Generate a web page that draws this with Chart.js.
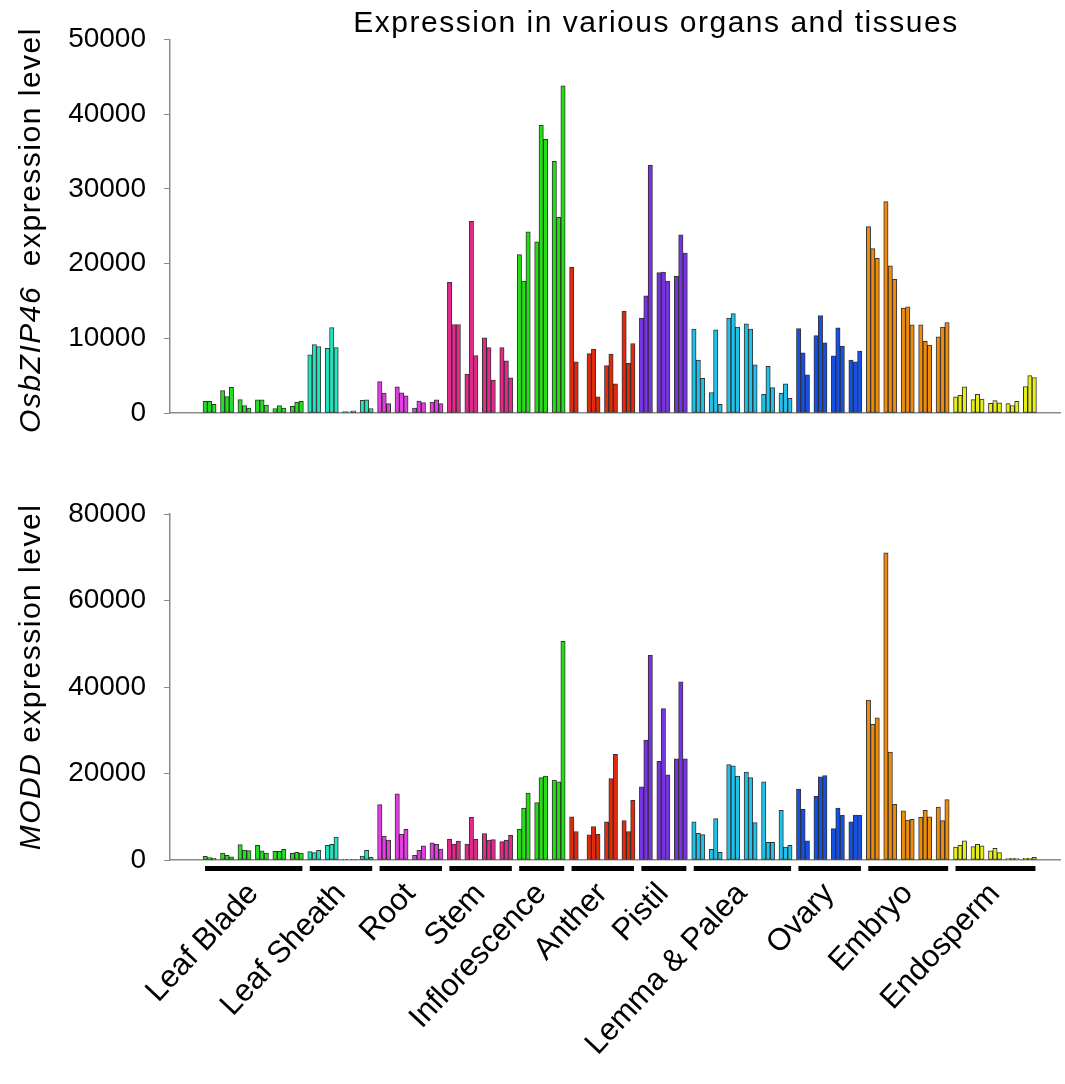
<!DOCTYPE html>
<html>
<head>
<meta charset="utf-8">
<script src="https://cdn.jsdelivr.net/npm/chart.js@4.4.1/dist/chart.umd.min.js"></script>
<style>
  body { margin: 0; background: #fff; font-family: "Liberation Sans", Arial, sans-serif; }
  #wrap { position: relative; width: 1065px; height: 1084px; overflow: hidden; }
  .box { position: absolute; left: 0; width: 1065px; }
  #topBox { top: 0; height: 440px; }
  #bottomBox { top: 440px; height: 644px; }
  #title { position: absolute; left: 656px; top: 22px; transform: translate(-50%, -50%);
           font-size: 30px; letter-spacing: 1.5px; white-space: nowrap; color: #000; }
  .ylab { position: absolute; transform: translate(-50%, -50%) rotate(-90deg);
          font-size: 30px; letter-spacing: 1.5px; white-space: nowrap; color: #000; }
</style>
</head>
<body>
<div id="wrap">
  <div class="box" id="topBox"><canvas id="topChart" width="1065" height="440"></canvas></div>
  <div class="box" id="bottomBox"><canvas id="bottomChart" width="1065" height="644"></canvas></div>
  <div id="title">Expression in various organs and tissues</div>
  <div class="ylab" style="left:30px; top:230px;"><i>OsbZIP46</i>&nbsp; expression level</div>
  <div class="ylab" style="left:30px; top:677px;"><i>MODD</i>&nbsp;expression level</div>
</div>
<script>
const tissues = ["Leaf Blade", "Leaf Sheath", "Root", "Stem", "Inflorescence", "Anther",
  "Pistil", "Lemma & Palea", "Ovary", "Embryo", "Endosperm"];
// number of sample triplicates per tissue
const tripletCounts = [6, 4, 4, 4, 3, 4, 3, 6, 4, 5, 5];
const tissueColors = ["#22e022", "#1ee6be", "#e63ce6", "#e6288c", "#22e011", "#e6280a",
  "#7832e6", "#1ec3eb", "#1450e6", "#f08c0a", "#e6f014"];

// OsbZIP46, three values per triplicate
const osbzip46 = [
  1550, 1550, 1150, 3000, 2200, 3450, 1800, 1000, 650, 1750, 1750, 1050, 600, 1000, 650, 900, 1450, 1550,
  7800, 9150, 8900, 8650, 11450, 8750, 200, 150, 300, 1700, 1750, 600,
  4200, 2650, 1250, 3500, 2700, 2300, 650, 1600, 1400, 1450, 1750, 1250,
  17500, 11850, 11850, 5200, 25650, 7700, 10050, 8750, 4400, 8750, 7000, 4700,
  21200, 17650, 24250, 22900, 38500, 36650, 33700, 26200, 43800,
  19500, 6850, null, 7950, 8550, 2150, 6350, 7900, 3900, 13650, 6650, 9300,
  12700, 15700, 33200, 18800, 18850, 17650, 18300, 23850, 21400,
  11250, 7100, 4650, 2750, 11150, 1150, 12700, 13300, 11500, 11950, 11250, 6450, 2500, 6250, 3400, 2650, 3900, 1950,
  11300, 8050, 5100, 10350, 13050, 9400, 7650, 11400, 8950, 7100, 6850, 8300,
  24950, 22000, 20700, 28300, 19700, 17900, 14050, 14200, 11800, 11800, 9600, 9100, 10200, 11500, 12100,
  2150, 2350, 3500, 1800, 2500, 1850, 1300, 1650, 1350, 1250, 1000, 1550, 3550, 5000, 4750
];

// MODD, same sample order
const modd = [
  850, 550, 400, 1600, 1100, 750, 3550, 2300, 2150, 3400, 2100, 1600, 2000, 2000, 2450, 1550, 1750, 1600,
  1950, 1700, 2250, 3400, 3600, 5300, 100, 50, 100, 900, 2250, 600,
  12800, 5550, 4600, 15300, 5950, 7100, 1100, 2250, 3300, 3950, 3600, 2550,
  4800, 3700, 4400, 3700, 9850, 4800, 6100, 4600, 4700, 4250, 4600, 5700,
  7100, 12000, 15500, 13250, 19050, 19400, 18500, 18050, 50550,
  10000, 6550, null, 5800, 7700, 5950, 8850, 18800, 24450, 9100, 6550, 13800,
  16900, 27750, 47350, 22800, 35000, 19700, 23400, 41200, 23400,
  8800, 6150, 5850, 2450, 9550, 1800, 22050, 21800, 19400, 20300, 19050, 8650, 18100, 4100, 4100, 11500, 3000, 3400,
  16400, 11700, 4450, 14700, 19250, 19500, 7250, 12000, 10350, 8800, 10400, 10400,
  37000, 31350, 32850, 71050, 24950, 12850, 11350, 9250, 9400, 9850, 11500, 10000, 12250, 9100, 13950,
  3000, 3400, 4450, 3100, 3600, 3250, 2100, 2700, 1700, 300, 400, 300, 400, 400, 600
];

const FONT = "'Liberation Sans', Arial, sans-serif";

// each triplicate takes 4 slots on the x axis: 3 bars and a gap
const tissueStart = [];
let acc = 0;
tripletCounts.forEach((n) => { tissueStart.push(acc); acc += n; });
const tissueCenters = tissueStart.map((s, i) => 4 * s + 2 * tripletCounts[i] - 1);

function buildBars(values) {
  const points = [];
  const colors = [];
  tissues.forEach((t, ti) => {
    for (let k = 0; k < tripletCounts[ti]; k++) {
      for (let j = 0; j < 3; j++) {
        const idx = (tissueStart[ti] + k) * 3 + j;
        if (values[idx] === null) continue;
        points.push({ x: 4 * (tissueStart[ti] + k) + j, y: values[idx] });
        colors.push(tissueColors[ti]);
      }
    }
  });
  return { points, colors };
}

const underlinePlugin = {
  id: "underlines",
  afterDraw(chart) {
    if (!chart.options.plugins.underlines.show) return;
    const x = chart.scales.x;
    const ctx = chart.ctx;
    const half = (x.getPixelForValue(1) - x.getPixelForValue(0)) / 2;
    const yTop = chart.chartArea.bottom + 6;
    ctx.save();
    ctx.fillStyle = "#000";
    tissues.forEach((t, i) => {
      const first = 4 * tissueStart[i];
      const last = 4 * (tissueStart[i] + tripletCounts[i] - 1) + 2;
      const x0 = x.getPixelForValue(first) - half + 2;
      const x1 = x.getPixelForValue(last) + half - 1;
      ctx.fillRect(x0, yTop, x1 - x0, 5);
    });
    ctx.restore();
  },
};

function makeChart(canvasId, values, yMax, step, padTop, xHeight, showLabels) {
  const bars = buildBars(values);
  return new Chart(document.getElementById(canvasId), {
    type: "bar",
    data: {
      datasets: [
        {
          data: bars.points,
          backgroundColor: bars.colors,
          borderColor: "rgba(30, 30, 30, 0.9)",
          borderWidth: 1,
          borderSkipped: false,
          barPercentage: 1,
          categoryPercentage: 1,
        },
      ],
    },
    options: {
      responsive: false,
      animation: false,
      layout: { padding: { top: padTop, right: 5, left: 0, bottom: 0 } },
      plugins: {
        legend: { display: false },
        tooltip: { enabled: false },
        underlines: { show: showLabels },
      },
      scales: {
        x: {
          type: "linear",
          offset: false,
          min: -8.07,
          max: 195.9,
          grid: { display: false },
          border: { display: true, color: "#8a8a8a", width: 1.5 },
          afterBuildTicks: (scale) => {
            scale.ticks = tissueCenters.map((v) => ({ value: v }));
          },
          afterFit: (scale) => { scale.height = xHeight; },
          ticks: {
            display: showLabels,
            autoSkip: false,
            minRotation: 47,
            maxRotation: 47,
            padding: 8,
            color: "#000",
            font: { family: FONT, size: 31 },
            callback: (value, index) => tissues[index],
          },
        },
        y: {
          min: 0,
          max: yMax,
          afterFit: (scale) => {
            scale.width = 170;
            // keep the outer tick labels from pushing the plot area around
            scale.paddingTop = 10;
            scale.paddingBottom = 10;
          },
          grid: { drawOnChartArea: false, drawTicks: true, tickLength: 6, color: "#8a8a8a" },
          border: { display: true, color: "#8a8a8a", width: 1.5 },
          ticks: {
            stepSize: step,
            padding: 18,
            color: "#000",
            font: { family: FONT, size: 28 },
            callback: (value) => String(value),
          },
        },
      },
    },
    plugins: [underlinePlugin],
  });
}

makeChart("topChart", osbzip46, 50000, 10000, 39.5, 27, false);
makeChart("bottomChart", modd, 80000, 20000, 74, 224, true);
</script>
</body>
</html>
